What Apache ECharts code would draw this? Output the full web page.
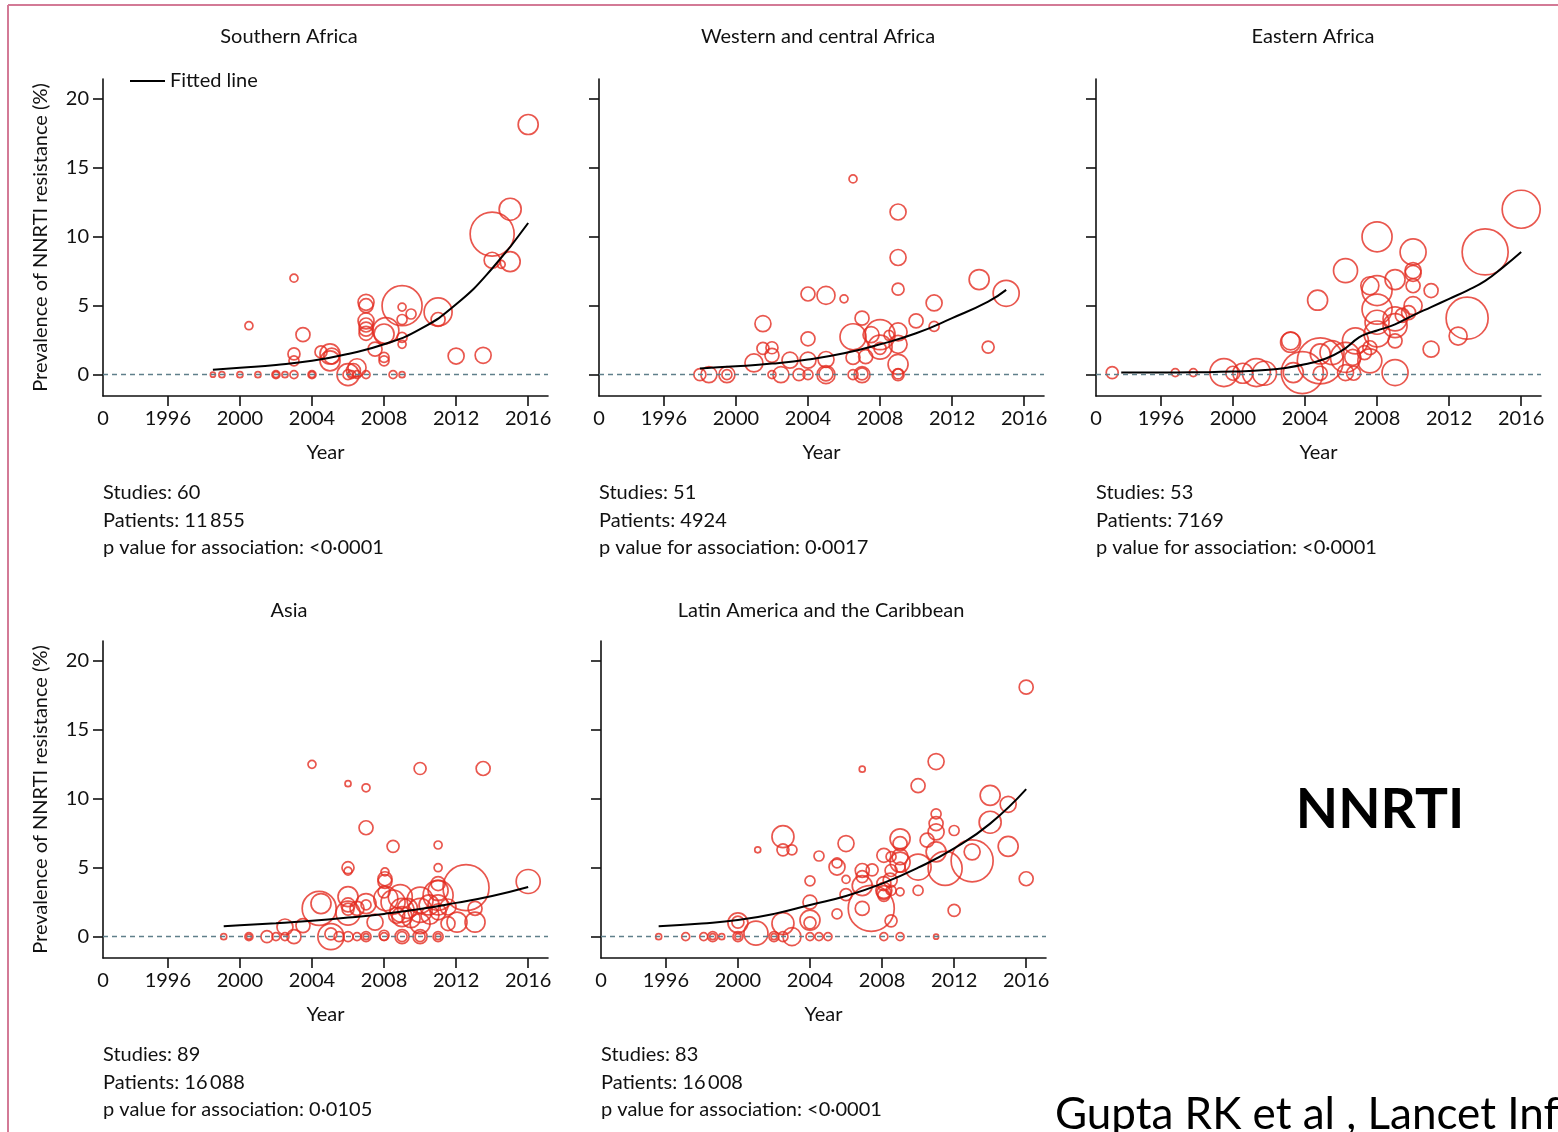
<!DOCTYPE html>
<html lang="en">
<head>
    <meta charset="UTF-8">
    <title>NNRTI resistance by region</title>
    <script type="text/javascript" src="https://cdn.jsdelivr.net/npm/echarts@6.0.0/dist/echarts.min.js"></script>
    <style>
        html, body { margin: 0; padding: 0; background: #fff; }
    </style>
</head>
<body>
<div id="main" style="width: 1558px;height:1132px;"></div>
<script type="text/javascript">
    // ---- data: [year, prevalence %, patients] ----
    var southernAfrica = [
        [2016.0, 18.15, 400], [2014.0, 10.2, 1936], [2015.0, 12.0, 484], [2014.0, 8.3, 256],
        [2015.0, 8.2, 400], [2014.5, 8.0, 64], [2009.0, 5.0, 1600], [2011.0, 4.55, 784],
        [2011.0, 4.0, 196], [2012.0, 1.35, 256], [2013.5, 1.4, 256], [2007.0, 5.25, 256],
        [2007.0, 5.0, 196], [2007.0, 3.9, 256], [2007.0, 3.6, 196], [2007.0, 3.3, 196],
        [2007.0, 3.0, 196], [2008.0, 2.95, 400], [2008.1, 3.2, 676], [2007.5, 1.85, 196],
        [2008.0, 1.25, 100], [2008.0, 1.0, 100], [2009.0, 4.9, 64], [2009.0, 4.0, 100],
        [2009.5, 4.4, 100], [2009.0, 2.7, 100], [2009.0, 2.2, 64], [2003.0, 7.0, 64],
        [2000.5, 3.55, 64], [2003.5, 2.9, 196], [2003.0, 1.5, 144], [2003.0, 1.0, 100],
        [2004.5, 1.65, 144], [2005.0, 1.5, 400], [2005.0, 1.0, 400], [2005.1, 1.35, 256],
        [2006.5, 0.5, 324], [2006.0, 0.0, 484], [2006.0, 0.0, 100], [2006.2, 0.0, 64],
        [2006.5, 0.0, 64], [2007.0, 0.0, 64], [2008.5, 0.0, 64], [2009.0, 0.0, 36],
        [2004.0, 0.0, 64], [2003.0, 0.0, 64], [2002.5, 0.0, 36], [2002.0, 0.0, 64],
        [2002.0, 0.0, 36], [2001.0, 0.0, 36], [2000.0, 0.0, 36], [1999.0, 0.0, 36],
        [1998.5, 0.0, 25], [2004.0, 0.0, 36], [2006.3, 0.3, 196]
    ];
    var westernCentralAfrica = [
        [2006.5, 14.2, 64], [2009.0, 11.8, 256], [2009.0, 8.5, 256], [2009.0, 6.2, 144],
        [2013.5, 6.9, 400], [2015.0, 5.9, 676], [2014.0, 2.0, 144], [2011.0, 5.2, 256],
        [2011.0, 3.5, 100], [2010.0, 3.9, 196], [2004.0, 5.85, 196], [2005.0, 5.75, 324],
        [2006.0, 5.5, 64], [2001.5, 3.7, 256], [2004.0, 2.6, 196], [2001.5, 1.9, 144],
        [2002.0, 1.95, 144], [2002.0, 1.4, 196], [2001.0, 0.85, 324], [2003.0, 1.05, 256],
        [2004.0, 1.05, 256], [2005.0, 1.1, 256], [2006.5, 2.75, 676], [2007.0, 4.1, 196],
        [2007.5, 2.9, 256], [2008.0, 2.9, 900], [2008.0, 2.0, 576], [2008.0, 1.9, 144],
        [2008.5, 2.85, 100], [2009.0, 3.1, 324], [2009.0, 2.2, 324], [2009.0, 0.75, 400],
        [2009.0, 0.0, 144], [2009.0, 0.05, 100], [2006.5, 1.25, 196], [2007.0, 0.0, 256],
        [2007.0, 0.05, 144], [2006.5, 0.0, 100], [2005.0, 0.0, 324], [2005.0, 0.05, 196],
        [2004.0, 0.0, 100], [2003.5, 0.0, 144], [2002.5, 0.0, 256], [2002.0, 0.0, 64],
        [1999.5, 0.0, 256], [1999.5, 0.0, 100], [1998.5, 0.0, 256], [1998.0, 0.0, 144],
        [2007.2, 1.3, 196]
    ];
    var easternAfrica = [
        [2016.0, 12.0, 1444], [2014.0, 8.9, 2116], [2013.0, 4.1, 1764], [2008.0, 10.0, 900],
        [2010.0, 8.9, 676], [2010.0, 7.55, 256], [2010.0, 7.35, 256], [2010.0, 6.45, 196],
        [2010.0, 5.0, 324], [2011.0, 6.1, 196], [2012.5, 2.8, 324], [2011.0, 1.85, 256],
        [2006.25, 7.55, 576], [2004.7, 5.4, 400], [2003.2, 2.35, 400], [2003.2, 2.45, 324],
        [2007.6, 6.45, 324], [2008.0, 6.1, 900], [2008.0, 4.75, 900], [2008.0, 3.8, 576],
        [2008.0, 2.95, 676], [2009.0, 6.9, 400], [2009.0, 4.05, 576], [2009.0, 3.55, 576],
        [2009.0, 2.45, 196], [2009.4, 4.3, 196], [2009.75, 4.5, 196], [2009.0, 0.15, 676],
        [2006.8, 2.45, 676], [2007.6, 1.0, 576], [2007.6, 1.95, 196], [2007.3, 1.6, 196],
        [2006.65, 1.25, 256], [2004.85, 1.0, 2116], [2004.85, 1.5, 400], [2003.85, 0.15, 1764],
        [2003.35, 0.15, 400], [2006.25, 1.25, 900], [2006.25, 0.15, 256], [2006.7, 0.1, 196],
        [2004.85, 0.1, 196], [2001.3, 0.15, 784], [2001.75, 0.1, 576], [2000.55, 0.1, 400],
        [1999.5, 0.15, 784], [2000.0, 0.1, 196], [1997.8, 0.15, 64], [1996.8, 0.15, 64],
        [1993.3, 0.15, 144], [2005.5, 1.6, 576]
    ];
    var asia = [
        [2004.0, 12.5, 64], [2006.0, 11.1, 36], [2007.0, 10.8, 64], [2010.0, 12.2, 144],
        [2013.5, 12.2, 196], [2007.0, 7.9, 196], [2008.5, 6.55, 144], [2011.0, 6.65, 64],
        [2006.0, 5.0, 144], [2006.0, 4.75, 64], [2011.0, 5.0, 64], [2016.0, 4.0, 576],
        [2012.55, 3.55, 2116], [2008.05, 4.7, 64], [2008.05, 4.2, 196], [2008.05, 4.0, 196],
        [2004.5, 2.4, 400], [2004.4, 2.05, 1156], [2006.0, 2.9, 400], [2006.0, 2.3, 196],
        [2006.0, 2.0, 144], [2006.0, 1.7, 576], [2007.0, 2.4, 400], [2007.0, 2.3, 100],
        [2006.5, 2.05, 196], [2008.0, 3.25, 144], [2008.1, 2.75, 576], [2008.5, 2.5, 576],
        [2008.9, 2.9, 576], [2009.0, 1.9, 576], [2009.0, 1.45, 400], [2008.7, 1.55, 256],
        [2009.3, 2.05, 400], [2009.5, 1.3, 324], [2010.0, 2.65, 676], [2010.0, 1.9, 576],
        [2010.0, 0.95, 400], [2010.5, 2.3, 400], [2011.0, 3.85, 196], [2011.0, 3.35, 400],
        [2011.0, 3.0, 900], [2011.0, 2.3, 400], [2011.0, 1.8, 256], [2010.55, 1.55, 324],
        [2011.55, 2.15, 256], [2012.05, 1.05, 400], [2013.05, 1.05, 400], [2013.05, 2.05, 196],
        [2007.5, 1.05, 256], [2003.5, 0.8, 196], [2002.5, 0.7, 256], [2003.0, 0.0, 196],
        [2005.05, 0.0, 676], [2005.05, 0.2, 144], [2005.5, 0.0, 100], [2006.0, 0.0, 100],
        [2006.5, 0.0, 64], [2007.0, 0.0, 100], [2007.0, 0.0, 36], [2008.0, 0.1, 100],
        [2009.0, 0.0, 196], [2009.0, 0.0, 100], [2010.0, 0.0, 196], [2010.0, 0.0, 100],
        [2011.0, 0.0, 100], [2011.0, 0.0, 36], [2002.5, 0.0, 64], [2002.0, 0.0, 64],
        [2001.5, 0.0, 144], [2000.5, 0.0, 64], [2000.5, 0.0, 25], [1999.1, 0.0, 36],
        [2011.55, 0.95, 196], [2008.0, 0.0, 64]
    ];
    var latinAmerica = [
        [2016.0, 18.1, 196], [2011.0, 12.7, 256], [2006.9, 12.15, 36], [2010.0, 10.95, 196],
        [2014.0, 10.25, 400], [2015.0, 9.6, 256], [2014.0, 8.3, 484], [2015.0, 6.55, 400],
        [2016.0, 4.2, 196], [2013.0, 5.5, 1764], [2013.0, 6.15, 256], [2011.5, 4.95, 1156],
        [2012.0, 7.7, 100], [2012.0, 1.9, 144], [2011.0, 8.9, 100], [2011.0, 8.2, 196],
        [2011.0, 7.6, 256], [2011.0, 6.15, 400], [2010.5, 7.0, 196], [2010.0, 5.05, 676],
        [2010.0, 3.35, 100], [2009.0, 7.1, 400], [2009.0, 6.75, 196], [2009.0, 5.8, 256],
        [2009.0, 5.4, 400], [2009.0, 5.05, 100], [2008.5, 5.8, 100], [2009.0, 3.25, 64],
        [2008.1, 5.9, 196], [2008.5, 4.8, 144], [2008.1, 3.85, 196], [2008.45, 4.1, 196],
        [2008.1, 3.35, 256], [2008.1, 3.0, 144], [2008.5, 3.35, 100], [2008.5, 1.15, 144],
        [2007.4, 2.05, 2116], [2006.9, 2.05, 196], [2006.9, 3.7, 400], [2006.9, 4.8, 196],
        [2006.9, 4.35, 144], [2007.45, 4.85, 144], [2006.0, 6.75, 256], [2006.0, 4.15, 64],
        [2006.0, 3.05, 144], [2005.5, 5.05, 256], [2005.5, 5.35, 100], [2005.5, 1.65, 100],
        [2004.5, 5.85, 100], [2004.0, 4.05, 100], [2004.0, 2.5, 196], [2004.0, 1.2, 400],
        [2004.0, 1.0, 144], [2002.5, 7.25, 484], [2002.5, 6.3, 144], [2003.0, 6.3, 100],
        [2001.1, 6.3, 36], [2002.5, 0.95, 484], [2000.0, 1.0, 400], [2000.0, 1.05, 144],
        [2001.0, 0.25, 576], [2003.0, 0.0, 324], [2002.5, 0.0, 100], [2002.0, 0.0, 100],
        [2002.0, 0.0, 36], [2000.0, 0.0, 100], [2000.0, 0.0, 36], [1999.1, 0.0, 36],
        [1998.6, 0.0, 100], [1998.6, 0.0, 36], [1998.1, 0.0, 64], [1997.1, 0.0, 64],
        [1995.6, 0.0, 36], [2004.0, 0.0, 64], [2004.5, 0.0, 64], [2005.0, 0.0, 64],
        [2008.1, 0.0, 64], [2009.0, 0.0, 64], [2011.0, 0.0, 25], [2008.1, 3.2, 196]
    ];

    // fitted lines: [year, prevalence %]
    var fitSouthern = [[1998.5, 0.35], [2000, 0.5], [2002, 0.7], [2004, 1.0], [2006, 1.5], [2008, 2.2],
        [2010, 3.3], [2012, 5.1], [2014, 7.7], [2016, 11.0]];
    var fitWestern = [[1998, 0.45], [2000, 0.6], [2002, 0.8], [2004, 1.1], [2006, 1.55], [2008, 2.2],
        [2010, 3.0], [2012, 4.1], [2014, 5.3], [2015, 6.15]];
    var fitEastern = [[1993.8, 0.15], [1996, 0.15], [1998, 0.17], [2000, 0.22], [2002, 0.35], [2003, 0.5],
        [2004, 0.75], [2005, 1.1], [2006, 1.7], [2007, 2.7], [2007.5, 3.0], [2008, 3.2], [2009, 3.65],
        [2010, 4.3], [2011, 4.9], [2012, 5.5], [2013, 6.1], [2014, 6.8], [2015, 7.8], [2016, 8.9]];
    var fitAsia = [[1999.1, 0.75], [2000, 0.82], [2002, 0.97], [2004, 1.15], [2006, 1.38], [2008, 1.65],
        [2010, 2.0], [2012, 2.45], [2014, 2.95], [2016, 3.6]];
    var fitLatin = [[1995.6, 0.75], [1998, 0.95], [2000, 1.2], [2002, 1.65], [2004, 2.3], [2006, 2.95],
        [2008, 3.85], [2010, 5.0], [2012, 6.4], [2014, 8.2], [2016, 10.7]];

    var regionNames = ['Southern Africa', 'Western and central Africa', 'Eastern Africa', 'Asia', 'Latin America and the Caribbean'];
    var studyCounts = ['60', '51', '53', '89', '83'];
    var patientCounts = ['11\u2009855', '4924', '7169', '16\u2009088', '16\u2009008'];
    var pValues = ['<0·0001', '0·0017', '<0·0001', '0·0105', '<0·0001'];
    var yearTicks = [1996, 2000, 2004, 2008, 2012, 2016];
    var prevalenceTicks = [0, 5, 10, 15, 20];

    var panelData = [southernAfrica, westernCentralAfrica, easternAfrica, asia, latinAmerica];
    var panelFits = [fitSouthern, fitWestern, fitEastern, fitAsia, fitLatin];

    var FONT = 'Lato';
    var X_MIN = 1992.4, X_MAX = 2017.1;
    var Y_MIN = -1.55, Y_MAX = 21.45;

    // panel boxes (plot area)
    var boxes = [
        {left: 103, top: 79},
        {left: 599, top: 79},
        {left: 1096, top: 79},
        {left: 103, top: 641},
        {left: 601, top: 641}
    ];
    var W = 445, H = 317;
    var titleX = [289, 818, 1313, 289, 821];
    var titleY = [37, 37, 37, 611, 611];
    var hasYLabels = [true, false, false, true, false];

    var grids = [], xAxes = [], yAxes = [], series = [], graphics = [];

    boxes.forEach(function (b, i) {
        grids.push({left: b.left, top: b.top, width: W, height: H});

        xAxes.push({
            type: 'value', gridIndex: i, min: X_MIN, max: X_MAX,
            name: 'Year', nameLocation: 'middle', nameGap: 47,
            nameTextStyle: {fontFamily: FONT, fontSize: 20, color: '#111'},
            axisLine: {onZero: false, lineStyle: {color: '#111', width: 1.6}},
            axisTick: {customValues: yearTicks, length: 10, lineStyle: {color: '#111', width: 1.6}},
            axisLabel: {
                customValues: [X_MIN].concat(yearTicks), margin: 13,
                fontFamily: FONT, fontSize: 20, color: '#111',
                formatter: function (v) { return v < 1995 ? '0' : String(Math.round(v)); }
            },
            splitLine: {show: false}
        });

        yAxes.push({
            type: 'value', gridIndex: i, min: Y_MIN, max: Y_MAX,
            name: hasYLabels[i] ? 'Prevalence of NNRTI resistance (%)' : '',
            nameLocation: 'middle', nameGap: 52, nameRotate: 90,
            nameTextStyle: {fontFamily: FONT, fontSize: 20, color: '#111'},
            axisLine: {show: true, onZero: false, lineStyle: {color: '#111', width: 1.6}},
            axisTick: {show: true, customValues: prevalenceTicks, length: 10, lineStyle: {color: '#111', width: 1.6}},
            axisLabel: {
                show: hasYLabels[i], customValues: prevalenceTicks, margin: 14,
                fontFamily: FONT, fontSize: 20, color: '#111'
            },
            splitLine: {show: false}
        });

        series.push({
            type: 'scatter', xAxisIndex: i, yAxisIndex: i,
            data: panelData[i],
            symbol: 'circle',
            symbolSize: function (d) { return Math.sqrt(d[2]); },
            itemStyle: {color: 'rgba(0,0,0,0)', borderColor: '#e42d22', borderWidth: 1.7},
            z: 2,
            markLine: {
                silent: true, symbol: 'none', label: {show: false},
                lineStyle: {color: '#5f7f8a', type: [5, 4], width: 1.3},
                data: [{yAxis: 0}]
            }
        });

        series.push({
            name: 'Fitted line', type: 'line', xAxisIndex: i, yAxisIndex: i,
            data: panelFits[i], smooth: true, showSymbol: false, color: '#000',
            lineStyle: {color: '#000', width: 2}, z: 3
        });

        graphics.push({
            type: 'text', x: titleX[i], y: titleY[i],
            style: {text: regionNames[i], fontFamily: FONT, fontSize: 20, fill: '#111', align: 'center', verticalAlign: 'middle'}
        });

        graphics.push({
            type: 'text', x: b.left, y: b.top + 400,
            style: {
                text: 'Studies: ' + studyCounts[i] + '\nPatients: ' + patientCounts[i] +
                    '\np value for association: ' + pValues[i],
                fontFamily: FONT, fontSize: 20, lineHeight: 27.5, fill: '#111',
                align: 'left', verticalAlign: 'top'
            }
        });
    });

    // page frame
    graphics.push({type: 'line', shape: {x1: 8, y1: 5, x2: 1558, y2: 5}, style: {stroke: '#d37a96', lineWidth: 2}});
    graphics.push({type: 'line', shape: {x1: 8, y1: 5, x2: 8, y2: 1132}, style: {stroke: '#d37a96', lineWidth: 2}});

    graphics.push({
        type: 'text', x: 1380, y: 810,
        style: {text: 'NNRTI', fontFamily: FONT, fontWeight: 'bold', fontSize: 55, fill: '#000', align: 'center', verticalAlign: 'middle'}
    });
    graphics.push({
        type: 'text', x: 1055, y: 1115,
        style: {text: 'Gupta RK et al , Lancet Inf', fontFamily: FONT, fontSize: 44, fill: '#000', align: 'left', verticalAlign: 'middle'}
    });

    var option = {
        animation: false,
        backgroundColor: '#fff',
        legend: {
            data: ['Fitted line'], left: 125, top: 66,
            icon: 'rect', itemWidth: 35, itemHeight: 2, itemGap: 6,
            textStyle: {fontFamily: FONT, fontSize: 20, color: '#111'}
        },
        grid: grids,
        xAxis: xAxes,
        yAxis: yAxes,
        series: series,
        graphic: graphics
    };

    var myChart = echarts.init(document.getElementById('main'));
    myChart.setOption(option);
</script>
</body>
</html>
